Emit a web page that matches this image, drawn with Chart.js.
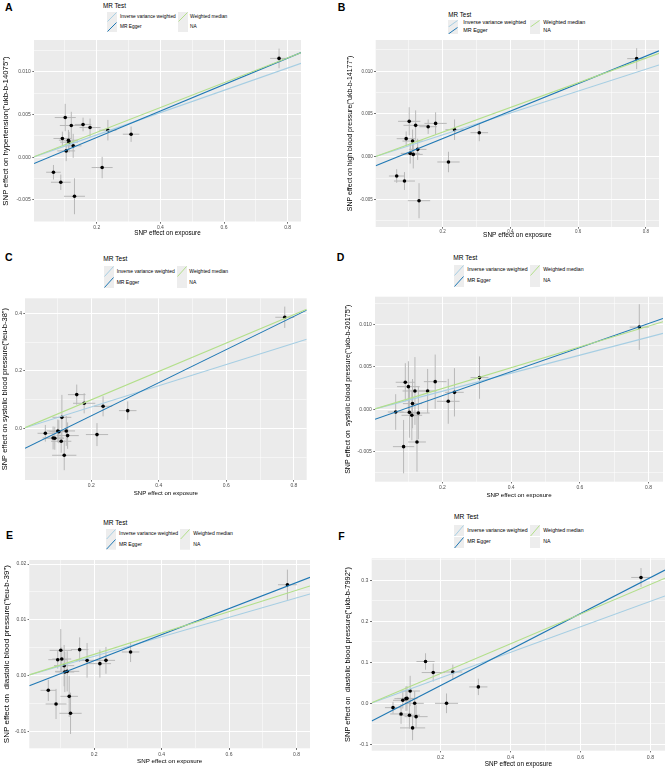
<!DOCTYPE html>
<html><head><meta charset="utf-8">
<script src="https://cdn.jsdelivr.net/npm/chart.js@4.4.1/dist/chart.umd.min.js"></script>
<style>
html,body{margin:0;padding:0;background:#fff;}
#fig{position:relative;width:669px;height:771px;overflow:hidden;font-family:"Liberation Sans",Arial,sans-serif;}
.t{position:absolute;white-space:nowrap;line-height:1;transform:translateY(-50%);color:#000;}
.lt{font-weight:bold;}
canvas{position:absolute;}
svg{position:absolute;}
</style></head><body><div id="fig"></div>
<script>
// ---------- DATA ----------
const methodNames = ['Inverse variance weighted', 'MR Egger', 'Weighted median'];
const legendLabels = ['Inverse variance weighted', 'MR Egger', 'Weighted median', 'NA'];
const legendTitle = 'MR Test';
const xTitle = 'SNP effect on exposure';
const panelLetters = ['A', 'B', 'C', 'D', 'E', 'F'];

// SNP effect on exposure (shared by all panels) and its standard error
const snpX   = [0.064, 0.087, 0.092, 0.101, 0.104, 0.111, 0.113, 0.120, 0.126, 0.130, 0.157, 0.179, 0.217, 0.235, 0.308, 0.773];
const snpXse = [0.023, 0.031, 0.028, 0.033, 0.028, 0.030, 0.028, 0.036, 0.026, 0.033, 0.026, 0.033, 0.033, 0.027, 0.026, 0.028];

const xMajorTicks = [0.2, 0.4, 0.6, 0.8];
const xTickLabels = ['0.2', '0.4', '0.6', '0.8'];
const xMinorTicks = [0.1, 0.3, 0.5, 0.7];

// Panel A
const yTitleA = 'SNP effect on hypertension("ukb-b-14075")';
const yA  = [-0.00176, -0.00293, 0.00219, 0.00464, 0.00074, 0.00199, 0.00176, 0.00371, 0.00133, -0.00457, 0.00383, 0.00347, -0.00121, 0.00316, 0.00269, 0.01156];
const seA = [0.00085, 0.0009, 0.0008, 0.0016, 0.0012, 0.0012, 0.0012, 0.0016, 0.0014, 0.0021, 0.0008, 0.00105, 0.00125, 0.0012, 0.0009, 0.00115];
const slopeA = [0.01304, 0.01546, 0.01452];
const interceptA = [0, -0.00078, 0];
const xRangeA = [0.0028, 0.842];
const yRangeA = [-0.00758, 0.01371];
const yMajorA = [-0.005, 0, 0.005, 0.01];
const yLabelsA = ['-0.005', '0.000', '0.005', '0.010'];
const yMinorA = [-0.0075, -0.0025, 0.0025, 0.0075, 0.0125];

// Panel B
const yTitleB = 'SNP effect on high blood pressure("ukb-b-14177")';
const yB  = [-0.00226, -0.00285, 0.00211, 0.00414, 0.00039, 0.00183, 0.00027, 0.00367, 0.00086, -0.00515, 0.00351, 0.0039, -0.00062, 0.00316, 0.00281, 0.01148];
const seB = [0.0008, 0.00105, 0.00085, 0.00165, 0.0012, 0.00135, 0.00165, 0.00175, 0.00125, 0.00205, 0.00085, 0.0013, 0.0012, 0.0012, 0.001, 0.00123];
const slopeB = [0.0128, 0.01605, 0.01442];
const interceptB = [0, -0.00108, 0];
const xRangeB = [0.002, 0.839];
const yRangeB = [-0.00823, 0.01366];
const yMajorB = [-0.005, 0, 0.005, 0.01];
const yLabelsB = ['-0.005', '0.000', '0.005', '0.010'];
const yMinorB = [-0.0075, -0.0025, 0.0025, 0.0075, 0.0125];

// Panel C
const yTitleC = 'SNP effect on systolic blood pressure("ieu-b-38")';
const yC  = [-0.0175, -0.0337, -0.0348, -0.0094, -0.012, -0.0453, 0.038, -0.094, -0.0094, -0.0256, 0.117, 0.0868, -0.022, 0.0764, 0.0613, 0.386];
const seC = [0.029, 0.04, 0.04, 0.04, 0.04, 0.04, 0.078, 0.052, 0.052, 0.046, 0.035, 0.035, 0.04, 0.035, 0.032, 0.037];
const slopeC = [0.3695, 0.576, 0.494];
const interceptC = [0, -0.0718, 0];
const xRangeC = [0.0038, 0.838];
const yRangeC = [-0.180, 0.452];
const yMajorC = [0, 0.2, 0.4];
const yLabelsC = ['0.0', '0.2', '0.4'];
const yMinorC = [-0.1, 0.1, 0.3];

// Panel D
const yTitleD = 'SNP effect on  systolic blood pressure("ukb-b-20175")';
const yD  = [-0.00032, -0.00441, 0.00319, 0.00267, -0.00036, -0.00071, 0.00067, 0.00216, -0.00386, -0.00044, 0.00216, 0.00326, 0.00094, 0.0020, 0.00374, 0.0097];
const seD = [0.0021, 0.00315, 0.00225, 0.003, 0.003, 0.00295, 0.0029, 0.004, 0.0035, 0.0031, 0.0026, 0.0032, 0.00265, 0.00285, 0.0025, 0.0027];
const slopeD = [0.01064, 0.01421, 0.01228];
const interceptD = [0, -0.00124, 0];
const xRangeD = [0.0038, 0.842];
const yRangeD = [-0.00855, 0.01329];
const yMajorD = [-0.005, 0, 0.005, 0.01];
const yLabelsD = ['-0.005', '0.000', '0.005', '0.010'];
const yMinorD = [-0.0075, -0.0025, 0.0025, 0.0075, 0.0125];

// Panel E
const yTitleE = 'SNP effect on  diastolic blood pressure("ieu-b-39")';
const yE  = [-0.00262, -0.00507, 0.00287, 0.00455, 0.00299, 0.0018, 0.00066, 0.00078, -0.0037, -0.00674, 0.00467, 0.00275, 0.00216, 0.00275, 0.00425, 0.0163];
const seE = [0.0019, 0.0027, 0.0016, 0.0038, 0.0021, 0.0037, 0.0036, 0.0036, 0.0037, 0.0037, 0.0022, 0.0031, 0.0025, 0.0024, 0.0018, 0.0027];
const slopeE = [0.01743, 0.02333, 0.01914];
const interceptE = [0, -0.00197, 0];
const xRangeE = [0.0077, 0.840];
const yRangeE = [-0.01301, 0.02073];
const yMajorE = [-0.01, 0, 0.01, 0.02];
const yLabelsE = ['-0.01', '0.00', '0.01', '0.02'];
const yMinorE = [-0.005, 0.005, 0.015];

// Panel F
const yTitleF = 'SNP effect on  diastolic blood pressure("ukb-b-7992")';
const yF  = [-0.0106, -0.026, 0.0073, 0.0114, 0.012, -0.029, 0.030, -0.060, 0.0, -0.0325, 0.102, 0.075, 0.0, 0.0764, 0.040, 0.307];
const seF = [0.014, 0.024, 0.02, 0.03, 0.03, 0.033, 0.037, 0.03, 0.03, 0.028, 0.02, 0.022, 0.024, 0.018, 0.02, 0.023];
const slopeF = [0.311, 0.4391, 0.3624];
const interceptF = [0, -0.0445, 0];
const xRangeF = [0.0031, 0.8416];
const yRangeF = [-0.1156, 0.3537];
const yMajorF = [-0.1, 0, 0.1, 0.2, 0.3];
const yLabelsF = ['-0.1', '0.0', '0.1', '0.2', '0.3'];
const yMinorF = [-0.05, 0.05, 0.15, 0.25, 0.35];

// ---------- STYLE / LAYOUT ----------
const FONT = '"Liberation Sans", Arial, sans-serif';
const methodColors = ['#A6CEE3', '#1F78B4', '#B2DF8A'];
const drawOrder = [2, 1, 0]; // weighted median drawn on top

const panels = [
  {letter: 0, yTitle: yTitleA, y: yA, se: seA, slope: slopeA, intercept: interceptA, xRange: xRangeA, yRange: yRangeA, yMajor: yMajorA, yLabels: yLabelsA, yMinor: yMinorA,
   L: {cx: 0, cy: 34, cw: 307, ch: 203, padTop: 6, padRight: 6, yw: 34, xh: 15, yTS: 7.8, yTPad: 1.3, xTS: 6.3, tS: 5, ytPad: 1.6, xtPad: 1.0, lx: 5, ly: 7.2},
   G: {tx: 103, ty: 5.7, ts: 6.3, k1: 107, k2: 178, l1: 120, l2: 190, r1: 16.7, r2: 26.7, kw: 10, kh: 10, ls: 4.8}},
  {letter: 1, yTitle: yTitleB, y: yB, se: seB, slope: slopeB, intercept: interceptB, xRange: xRangeB, yRange: yRangeB, yMajor: yMajorB, yLabels: yLabelsB, yMinor: yMinorB,
   L: {cx: 345, cy: 34, cw: 320, ch: 205, padTop: 6, padRight: 6, yw: 30.7, xh: 12, yTS: 7.0, yTPad: 0.8, xTS: 6.5, tS: 4.5, ytPad: 1.3, xtPad: 0, lx: 337.7, ly: 7.2},
   G: {tx: 448.3, ty: 15, ts: 6.3, k1: 448.3, k2: 530, l1: 463.3, l2: 543.3, r1: 23.3, r2: 30.7, kw: 10, kh: 7.4, ls: 5.4}},
  {letter: 2, yTitle: yTitleC, y: yC, se: seC, slope: slopeC, intercept: interceptC, xRange: xRangeC, yRange: yRangeC, yMajor: yMajorC, yLabels: yLabelsC, yMinor: yMinorC,
   L: {cx: 0, cy: 292, cw: 313, ch: 205, padTop: 6.3, padRight: 6.3, yw: 25, xh: 17, yTS: 7.5, yTPad: 0.5, xTS: 6.1, tS: 5, ytPad: 1.3, xtPad: 0.5, lx: 5, ly: 257},
   G: {tx: 103.3, ty: 259.3, ts: 6.6, k1: 104.3, k2: 176.7, l1: 116.7, l2: 189.3, r1: 271, r2: 282.3, kw: 10, kh: 11, ls: 5.0}},
  {letter: 3, yTitle: yTitleD, y: yD, se: seD, slope: slopeD, intercept: interceptD, xRange: xRangeD, yRange: yRangeD, yMajor: yMajorD, yLabels: yLabelsD, yMinor: yMinorD,
   L: {cx: 343, cy: 290, cw: 326, ch: 209, padTop: 6.7, padRight: 6, yw: 32, xh: 17.3, yTS: 7.1, yTPad: 1.0, xTS: 6.2, tS: 5, ytPad: 1.5, xtPad: 1.5, lx: 336.7, ly: 257},
   G: {tx: 453.3, ty: 257.7, ts: 6.6, k1: 454, k2: 530, l1: 467.3, l2: 543.3, r1: 270, r2: 281, kw: 10, kh: 11, ls: 5.2}},
  {letter: 4, yTitle: yTitleE, y: yE, se: seE, slope: slopeE, intercept: interceptE, xRange: xRangeE, yRange: yRangeE, yMajor: yMajorE, yLabels: yLabelsE, yMinor: yMinorE,
   L: {cx: 1, cy: 554, cw: 315, ch: 211, padTop: 6, padRight: 6, yw: 28.3, xh: 16.7, yTS: 8.0, yTPad: 0.8, xTS: 6.2, tS: 5, ytPad: 1.3, xtPad: 2.0, lx: 6, ly: 535},
   G: {tx: 103.3, ty: 523.3, ts: 6.6, k1: 106, k2: 180, l1: 119, l2: 193.3, r1: 534, r2: 544.7, kw: 10, kh: 10.7, ls: 5.1}},
  {letter: 5, yTitle: yTitleF, y: yF, se: seF, slope: slopeF, intercept: interceptF, xRange: xRangeF, yRange: yRangeF, yMajor: yMajorF, yLabels: yLabelsF, yMinor: yMinorF,
   L: {cx: 343, cy: 552, cw: 328, ch: 216, padTop: 6.3, padRight: 6, yw: 28.7, xh: 17.3, yTS: 7.4, yTPad: 0.9, xTS: 6.4, tS: 5.2, ytPad: 1.5, xtPad: 1.8, lx: 338.3, ly: 535.5},
   G: {tx: 454, ty: 516.7, ts: 6.7, k1: 454, k2: 530, l1: 467.3, l2: 543.3, r1: 530.7, r2: 542.3, kw: 10, kh: 11.6, ls: 5.2}}
];

const fig = document.getElementById('fig');

function addText(txt, x, y, size, cls) {
  const d = document.createElement('div');
  d.className = 't' + (cls ? ' ' + cls : '');
  d.style.left = x + 'px';
  d.style.top = y + 'px';
  d.style.fontSize = size + 'px';
  d.textContent = txt;
  fig.appendChild(d);
}
function addKey(x, yc, w, h, color) {
  const ns = 'http://www.w3.org/2000/svg';
  const s = document.createElementNS(ns, 'svg');
  s.setAttribute('width', w); s.setAttribute('height', h);
  s.style.left = x + 'px'; s.style.top = (yc - h / 2) + 'px';
  const r = document.createElementNS(ns, 'rect');
  r.setAttribute('width', w); r.setAttribute('height', h); r.setAttribute('fill', '#EDEDED');
  s.appendChild(r);
  if (color) {
    const l = document.createElementNS(ns, 'line');
    l.setAttribute('x1', 0.5); l.setAttribute('y1', h - 0.5);
    l.setAttribute('x2', w - 0.5); l.setAttribute('y2', 0.5);
    l.setAttribute('stroke', color); l.setAttribute('stroke-width', 1);
    s.appendChild(l);
  }
  fig.appendChild(s);
}

const bgPlugin = {
  id: 'panelBg',
  beforeDraw(chart) {
    const a = chart.chartArea, ctx = chart.ctx;
    ctx.save(); ctx.fillStyle = '#EBEBEB';
    ctx.fillRect(a.left, a.top, a.right - a.left, a.bottom - a.top);
    ctx.restore();
  }
};

const isIn = (arr, v) => arr.findIndex(m => Math.abs(m - v) < 1e-9);

function makePanel(p) {
  const L = p.L, G = p.G;
  addText(panelLetters[p.letter], L.lx, L.ly, 10.5, 'lt');
  addText(legendTitle, G.tx, G.ty, G.ts);
  const keyPos = [[G.k1, G.l1, G.r1], [G.k1, G.l1, G.r2], [G.k2, G.l2, G.r1], [G.k2, G.l2, G.r2]];
  legendLabels.forEach((lab, i) => {
    const [kx, lx, ry] = keyPos[i];
    addKey(kx, ry, G.kw, G.kh, i < 3 ? methodColors[i] : null);
    addText(lab, lx, ry, G.ls);
  });

  const cv = document.createElement('canvas');
  cv.width = L.cw; cv.height = L.ch;
  cv.style.left = L.cx + 'px'; cv.style.top = L.cy + 'px';
  cv.style.width = L.cw + 'px'; cv.style.height = L.ch + 'px';
  fig.appendChild(cv);

  const pts = snpX.map((x, i) => ({x: x, y: p.y[i]}));
  const hbar = [], vbar = [];
  snpX.forEach((x, i) => {
    hbar.push({x: x - snpXse[i], y: p.y[i]}, {x: x + snpXse[i], y: p.y[i]}, {x: x, y: null});
    vbar.push({x: x, y: p.y[i] - p.se[i]}, {x: x, y: p.y[i] + p.se[i]}, {x: x, y: null});
  });
  const lineDs = drawOrder.map(k => ({
    label: methodNames[k],
    data: p.xRange.map(x => ({x: x, y: p.intercept[k] + p.slope[k] * x})),
    showLine: true, borderColor: methodColors[k], borderWidth: 1.1, pointRadius: 0, clip: 0
  }));
  const datasets = [
    ...lineDs,
    {label: 'SNP', data: pts, showLine: false, pointRadius: 1.8, pointBackgroundColor: '#000', pointBorderWidth: 0, clip: 0},
    {label: 'se x', data: hbar, showLine: true, spanGaps: false, borderColor: '#B8B8B8', borderWidth: 1, pointRadius: 0, clip: 0},
    {label: 'se y', data: vbar, showLine: true, spanGaps: false, borderColor: '#B8B8B8', borderWidth: 1, pointRadius: 0, clip: 0}
  ];

  const xTicksAll = [...xMajorTicks, ...xMinorTicks].filter(v => v >= p.xRange[0] && v <= p.xRange[1]).sort((a, b) => a - b);
  const yTicksAll = [...p.yMajor, ...p.yMinor].filter(v => v >= p.yRange[0] && v <= p.yRange[1]).sort((a, b) => a - b);

  const gridOpts = (majors) => ({
    color: '#FFFFFF',
    lineWidth: c => (c.tick && isIn(majors, c.tick.value) >= 0) ? 1 : 0.5,
    drawTicks: true, tickLength: 1.7, tickWidth: 0.7,
    tickColor: c => (c.tick && isIn(majors, c.tick.value) >= 0) ? '#333333' : 'rgba(0,0,0,0)'
  });

  new Chart(cv, {
    type: 'scatter',
    data: {datasets: datasets},
    options: {
      responsive: false, devicePixelRatio: 1, animation: false, events: [],
      layout: {padding: {top: L.padTop, right: L.padRight, left: 0, bottom: 0}},
      plugins: {legend: {display: false}, tooltip: {enabled: false}},
      scales: {
        x: {
          type: 'linear', min: p.xRange[0], max: p.xRange[1],
          afterBuildTicks: s => { s.ticks = xTicksAll.map(v => ({value: v})); },
          afterFit: s => { s.height = L.xh; },
          ticks: {autoSkip: false, maxRotation: 0, padding: L.xtPad, color: '#4D4D4D', font: {family: FONT, size: L.tS},
                  callback: v => { const i = isIn(xMajorTicks, v); return i >= 0 ? xTickLabels[i] : ''; }},
          grid: gridOpts(xMajorTicks),
          border: {display: false},
          title: {display: true, text: xTitle, color: '#000', font: {family: FONT, size: L.xTS, lineHeight: 1.2}, padding: {top: 0, bottom: 0}}
        },
        y: {
          type: 'linear', min: p.yRange[0], max: p.yRange[1],
          afterBuildTicks: s => { s.ticks = yTicksAll.map(v => ({value: v})); },
          afterFit: s => { s.width = L.yw; },
          ticks: {autoSkip: false, padding: L.ytPad, color: '#4D4D4D', font: {family: FONT, size: L.tS},
                  callback: v => { const i = isIn(p.yMajor, v); return i >= 0 ? p.yLabels[i] : ''; }},
          grid: gridOpts(p.yMajor),
          border: {display: false},
          title: {display: true, text: p.yTitle, color: '#000', font: {family: FONT, size: L.yTS, lineHeight: 1.2}, padding: {top: L.yTPad, bottom: 0}}
        }
      }
    },
    plugins: [bgPlugin]
  });
}

panels.forEach(makePanel);
</script></body></html>
